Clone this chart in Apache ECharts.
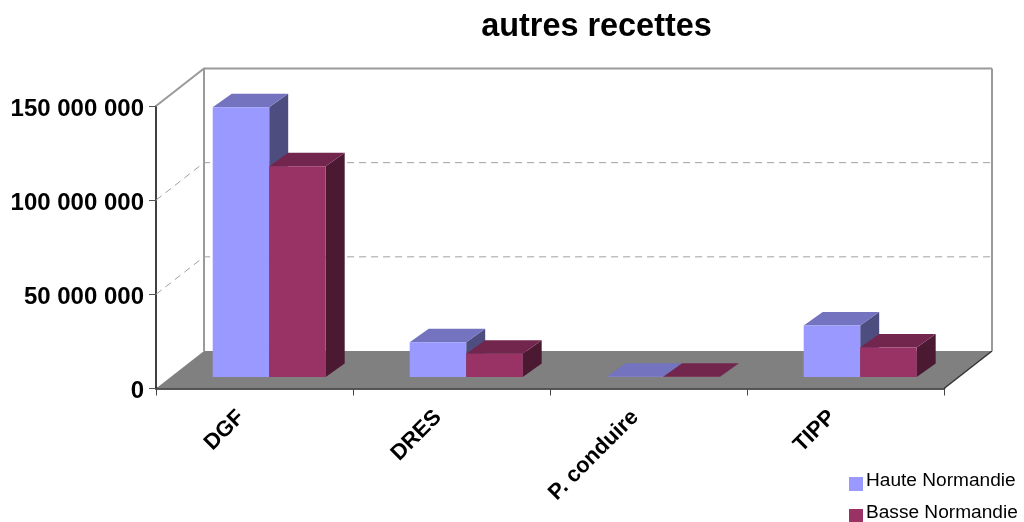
<!DOCTYPE html>
<html><head><meta charset="utf-8">
<style>html,body{margin:0;padding:0;background:#fff}#c{width:1024px;height:522px}</style>
<script src="https://cdn.jsdelivr.net/npm/echarts@6/dist/echarts.min.js"></script>
</head><body><div id="c"></div>
<script>
const categories = ['DGF','DRES','P. conduire','TIPP'];
const hauteNormandie = [143200000,18400000,100000,27400000];
const basseNormandie = [111900000,12300000,100000,15600000];
const yTicks = [0,50000000,100000000,150000000];
const FONT = '"Liberation Sans", Arial, sans-serif';
const WALL = {dx:48, dy:-37.5};
const BAR = {inX:14.7, inY:-11.5, dx:19, dy:-13.5, widthFrac:0.2868};
const chart = echarts.init(document.getElementById('c'), null, {renderer:'canvas'});
function fmt(v){return String(v).replace(/\B(?=(\d{3})+$)/g,' ');}
function backdrop(params, api){
  const cs = params.coordSys, v = api.value(0), y = api.coord([0,v])[1];
  const x0 = cs.x, x1 = cs.x+cs.width, d = WALL, kids = [];
  const wall = {stroke:'#9a9a9a', lineWidth:2, fill:null};
  const grid = {stroke:'#a0a0a0', lineWidth:1, lineDash:[7,5], fill:null};
  if (v === 0){
    kids.push({type:'polygon',shape:{points:[[x0,y],[x1,y],[x1+d.dx,y+d.dy],[x0+d.dx,y+d.dy]]},style:{fill:'#808080'}});
    kids.push({type:'line',shape:{x1:x1,y1:y,x2:x1+d.dx,y2:y+d.dy},style:{stroke:'#333',lineWidth:1.5}});
    kids.push({type:'line',shape:{x1:x0+d.dx,y1:y+d.dy,x2:x0+d.dx,y2:cs.y+d.dy},style:wall});
    kids.push({type:'line',shape:{x1:x1+d.dx,y1:y+d.dy,x2:x1+d.dx,y2:cs.y+d.dy},style:wall});
  } else if (v === yTicks[yTicks.length-1]){
    kids.push({type:'polyline',shape:{points:[[x0,y],[x0+d.dx,y+d.dy],[x1+d.dx,y+d.dy]]},style:wall});
  } else {
    kids.push({type:'polyline',shape:{points:[[x0,y],[x0+d.dx,y+d.dy],[x1+d.dx,y+d.dy]]},style:grid});
  }
  return {type:'group',children:kids};
}
function bars(side, front, top, dark){
  return function(params, api){
    const idx = api.value(0), val = api.value(1);
    const c = api.coord([idx,val]), b = api.coord([idx,0]);
    const band = api.size([1,0])[0], w = band*BAR.widthFrac;
    const xl = c[0]+BAR.inX+(side<0?-w:0), xr = xl+w;
    const yt = c[1]+BAR.inY, yb = b[1]+BAR.inY, dx = BAR.dx, dy = BAR.dy;
    return {type:'group',children:[
      {type:'polygon',shape:{points:[[xr,yt],[xr+dx,yt+dy],[xr+dx,yb+dy],[xr,yb]]},style:{fill:dark}},
      {type:'polygon',shape:{points:[[xl,yt],[xr,yt],[xr+dx,yt+dy],[xl+dx,yt+dy]]},style:{fill:top}},
      {type:'rect',shape:{x:xl,y:yt,width:w,height:yb-yt},style:{fill:front}}
    ]};
  };
}
chart.setOption({
  animation:false,
  backgroundColor:'#fff',
  title:{text:'autres recettes',left:591.5,top:6,textAlign:'center',
    textStyle:{fontFamily:FONT,fontWeight:'bold',fontSize:32.4,color:'#000'}},
  legend:{orient:'vertical',left:849,top:471,height:80,itemWidth:14,itemHeight:20,itemGap:12,
    icon:'path://M0 0H14Z M0 6H14V20H0Z',selectedMode:false,padding:0,
    data:['Haute Normandie','Basse Normandie'],
    textStyle:{fontFamily:FONT,fontSize:19.1,lineHeight:20,color:'#000',padding:[0,0,0,-2]}},
  grid:{left:156,top:106,width:788,height:282.5},
  xAxis:{type:'category',data:categories,
    axisLine:{lineStyle:{color:'#222',width:2.5}},
    axisTick:{show:true,length:7,lineStyle:{color:'#444'}},
    axisLabel:{rotate:45,interval:0,fontFamily:FONT,fontWeight:'bold',fontSize:22,color:'#000',margin:12,padding:[0,19,0,0]}},
  yAxis:{type:'value',min:0,max:150000000,interval:50000000,
    axisLine:{show:true,lineStyle:{color:'#000',width:1.5}},
    axisTick:{show:true,length:7,lineStyle:{color:'#555'}},
    splitLine:{show:false},
    axisLabel:{formatter:fmt,fontFamily:FONT,fontWeight:'bold',fontSize:24,color:'#000',margin:12,verticalAlign:'top',padding:[-9,0,0,0]}},
  series:[
    {type:'custom',name:'wall',silent:true,z:1,renderItem:backdrop,data:yTicks.map(v=>[v]),encode:{y:0},clip:false},
    {type:'custom',name:'Haute Normandie',z:2,itemStyle:{color:'#9999FF'},
      renderItem:bars(-1,'#9999FF','#7373BF','#4D4D80'),
      data:hauteNormandie.map((v,i)=>[i,v]),encode:{x:0,y:1},clip:false},
    {type:'custom',name:'Basse Normandie',z:3,itemStyle:{color:'#993366'},
      renderItem:bars(1,'#993366','#73264D','#4C1933'),
      data:basseNormandie.map((v,i)=>[i,v]),encode:{x:0,y:1},clip:false}
  ]
});
</script></body></html>
